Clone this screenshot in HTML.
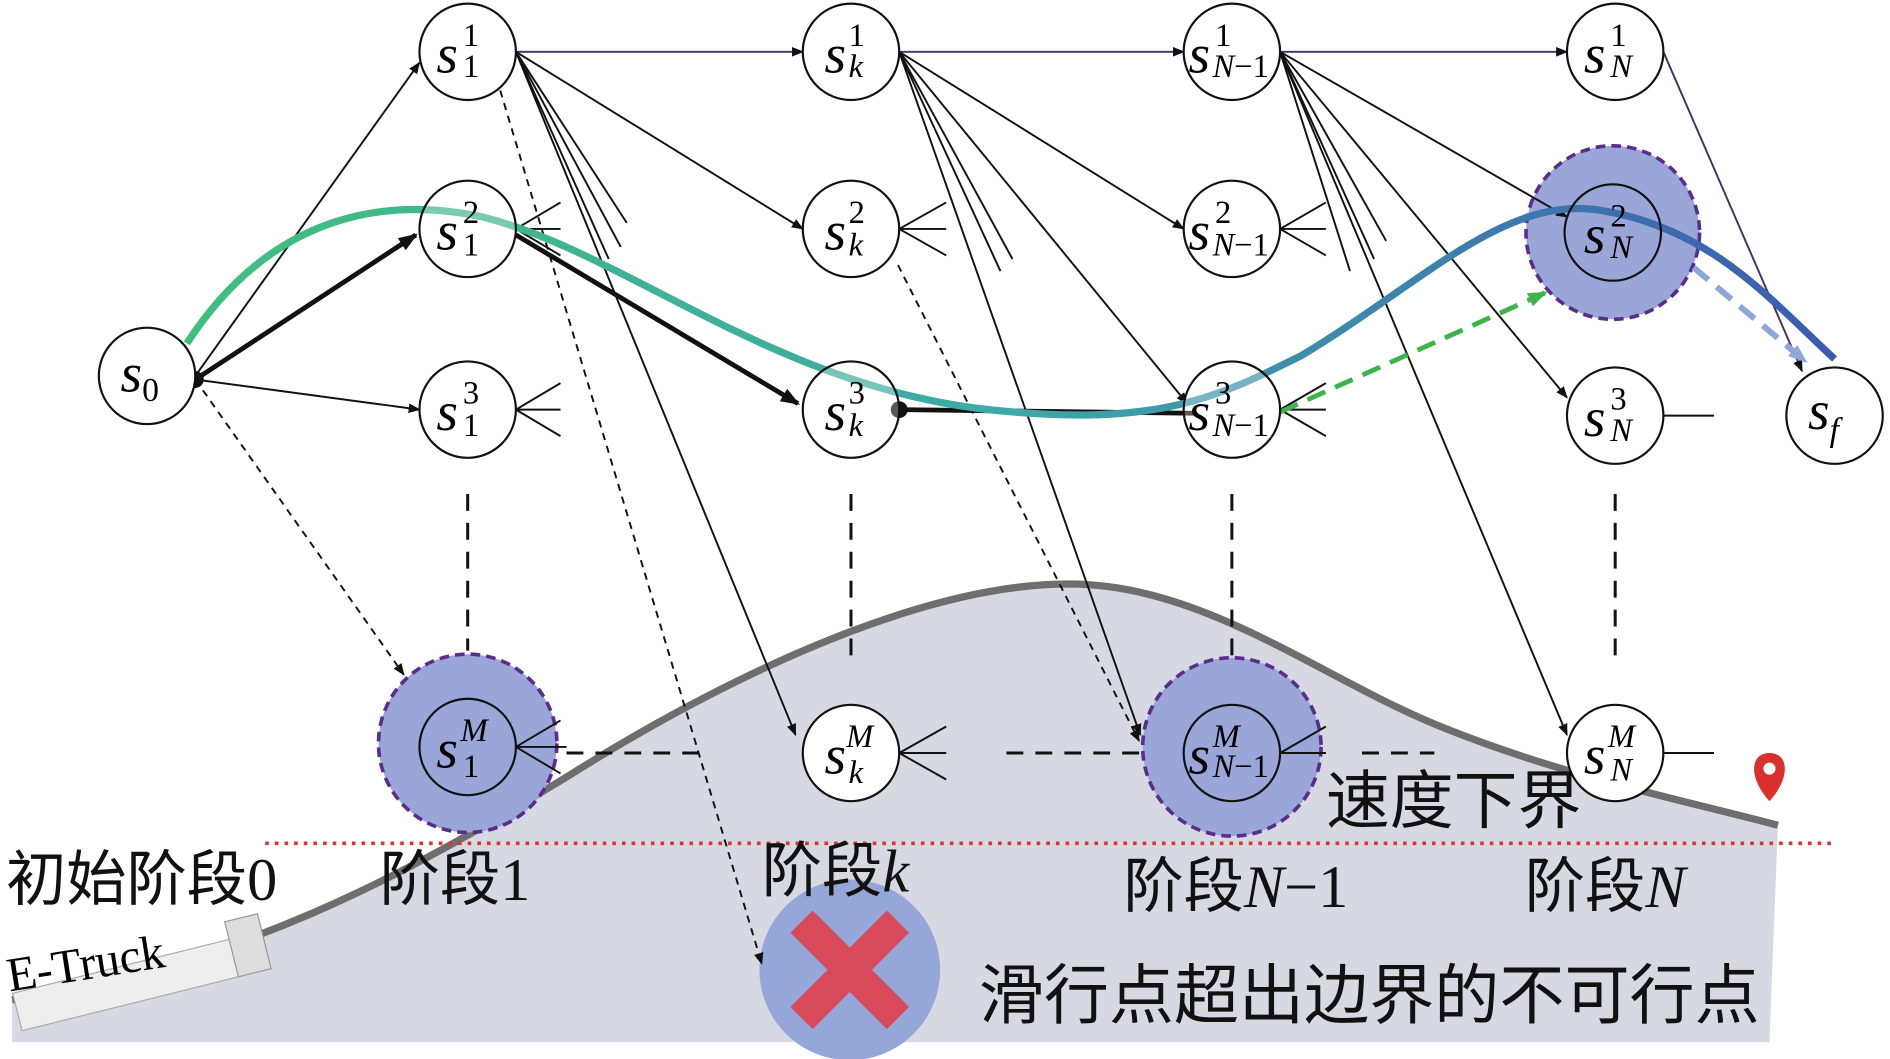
<!DOCTYPE html>
<html><head><meta charset="utf-8"><style>
html,body{margin:0;padding:0;background:#fff;}
svg{display:block;}
text{font-family:"Liberation Serif","Noto Serif CJK SC",serif;}
.cn{font-family:"Liberation Serif","Noto Sans CJK SC",sans-serif;}
</style></head><body>
<svg width="1890" height="1059" viewBox="0 0 1568 879" preserveAspectRatio="none" xmlns="http://www.w3.org/2000/svg">
<defs>
<marker id="a" markerWidth="10" markerHeight="8" refX="9" refY="4" orient="auto" markerUnits="userSpaceOnUse"><path d="M0,0 L10,4 L0,8 z" fill="#111"/></marker>
<marker id="ab" markerWidth="16" markerHeight="12" refX="14" refY="6" orient="auto" markerUnits="userSpaceOnUse"><path d="M0,0 L16,6 L0,12 z" fill="#111"/></marker>
<marker id="ag" markerWidth="16" markerHeight="12" refX="14" refY="6" orient="auto" markerUnits="userSpaceOnUse"><path d="M0,0 L16,6 L0,12 z" fill="#3cb44a"/></marker>
<marker id="al" markerWidth="16" markerHeight="12" refX="14" refY="6" orient="auto" markerUnits="userSpaceOnUse"><path d="M0,0 L16,6 L0,12 z" fill="#8ea6d8"/></marker>
<linearGradient id="g" x1="0" x2="1" y1="0" y2="0"><stop offset="0" stop-color="#3fbf7f"/><stop offset="0.5" stop-color="#3fa8a8"/><stop offset="1" stop-color="#3a5cb0"/></linearGradient>
</defs>
<!-- hill -->
<path d="M10,830 C200,800 330,730 470,645 C620,550 800,470 920,487 C1020,500 1110,570 1200,605 C1300,645 1400,665 1475,685 L1468,865 L10,865 Z" fill="#d6d9e2"/>
<path d="M10,830 C200,800 330,730 470,645 C620,550 800,470 920,487 C1020,500 1110,570 1200,605 C1300,645 1400,665 1475,685" fill="none" stroke="#6e6e6e" stroke-width="6"/>
<!-- truck -->
<g transform="rotate(-14 110 810)"><rect x="10" y="800" width="190" height="32" fill="#eee" stroke="#aaa"/><rect x="195" y="785" width="28" height="47" fill="#ddd" stroke="#999"/></g>
<text x="8" y="823" font-size="40" transform="rotate(-9 8 823)">E-Truck</text>
<!-- red dotted -->
<line x1="220" y1="700" x2="1520" y2="700" stroke="#e0322d" stroke-width="3" stroke-dasharray="3,5"/>
<!-- pin -->
<path d="M1468,665 C1450,645 1452,625 1468,625 C1484,625 1486,645 1468,665 Z" fill="#d9302c"/><circle cx="1468" cy="638" r="5" fill="#fff"/>
<!-- big highlight circles -->
<g fill="#9aa6d8" stroke="#5a2c8c" stroke-width="3" stroke-dasharray="8,5">
<circle cx="388" cy="617" r="74"/><circle cx="1022" cy="620" r="74"/><circle cx="1338" cy="193" r="72"/>
</g>
<circle cx="705" cy="805" r="75" fill="#95a6d8"/>
<path d="M665,765 L745,845 M745,765 L665,845" stroke="#d84a5a" stroke-width="26"/>
<!-- edges thin -->
<g stroke="#111" stroke-width="1.6" fill="none">
<line x1="162" y1="312" x2="348" y2="52" marker-end="url(#a)"/>
<line x1="162" y1="315" x2="348" y2="340" marker-end="url(#a)"/>
<line x1="162" y1="315" x2="335" y2="560" stroke-dasharray="6,5" marker-end="url(#a)"/>
<line x1="428" y1="43" x2="666" y2="43" stroke="#40306a" marker-end="url(#a)"/>
<line x1="428" y1="43" x2="666" y2="190" marker-end="url(#a)"/>
<line x1="428" y1="43" x2="520" y2="185"/><line x1="428" y1="43" x2="515" y2="205"/><line x1="428" y1="43" x2="505" y2="215"/>
<line x1="428" y1="43" x2="660" y2="610" marker-end="url(#a)"/>
<line x1="415" y1="75" x2="632" y2="800" stroke-dasharray="6,5" marker-end="url(#a)"/>
<line x1="746" y1="43" x2="982" y2="43" stroke="#40306a" marker-end="url(#a)"/>
<line x1="746" y1="43" x2="982" y2="190" marker-end="url(#a)"/>
<line x1="746" y1="43" x2="985" y2="335" marker-end="url(#a)"/>
<line x1="746" y1="43" x2="946" y2="610" marker-end="url(#a)"/>
<line x1="746" y1="43" x2="840" y2="215"/><line x1="746" y1="43" x2="830" y2="225"/>
<line x1="745" y1="220" x2="945" y2="615" stroke-dasharray="6,5" marker-end="url(#a)"/>
<line x1="1062" y1="43" x2="1300" y2="43" stroke="#40306a" marker-end="url(#a)"/>
<line x1="1062" y1="43" x2="1300" y2="180" marker-end="url(#a)"/>
<line x1="1062" y1="43" x2="1300" y2="330" marker-end="url(#a)"/>
<line x1="1062" y1="43" x2="1300" y2="610" marker-end="url(#a)"/>
<line x1="1062" y1="43" x2="1150" y2="200"/><line x1="1062" y1="43" x2="1140" y2="215"/><line x1="1062" y1="43" x2="1120" y2="225"/>
<line x1="1380" y1="43" x2="1495" y2="308" stroke="#40306a" marker-end="url(#a)"/>
<path d="M428,190 L465,168 M428,190 L465,190 M428,190 L465,212"/>
<path d="M428,340 L465,318 M428,340 L465,340 M428,340 L465,362"/>
<path d="M428,620 L465,598 M428,620 L470,620 M428,620 L465,642"/>
<path d="M746,190 L785,168 M746,190 L785,190 M746,190 L785,212"/>
<path d="M746,625 L785,603 M746,625 L785,625 M746,625 L785,647"/>
<path d="M1062,190 L1100,168 M1062,190 L1100,190 M1062,190 L1100,212"/>
<path d="M1062,340 L1100,318 M1062,340 L1100,340 M1062,340 L1100,362"/>
<path d="M1062,625 L1100,603 M1062,625 L1100,625"/>
<path d="M1380,345 L1422,345 M1380,625 L1422,625"/>
<g stroke-dasharray="14,10" stroke-width="2.5">
<line x1="388" y1="410" x2="388" y2="540"/><line x1="706" y1="410" x2="706" y2="545"/>
<line x1="1022" y1="410" x2="1022" y2="545"/><line x1="1340" y1="410" x2="1340" y2="545"/>
<line x1="470" y1="625" x2="590" y2="625"/><line x1="835" y1="625" x2="945" y2="625"/>
<line x1="1130" y1="625" x2="1190" y2="625"/>
</g>
</g>
<!-- bold path -->
<g stroke="#111" stroke-width="4" fill="none">
<line x1="162" y1="315" x2="345" y2="195" marker-end="url(#ab)"/>
<line x1="428" y1="195" x2="662" y2="335" marker-end="url(#ab)"/>
<line x1="746" y1="340" x2="990" y2="343"/>
</g>
<circle cx="162" cy="315" r="7" fill="#111"/><circle cx="746" cy="340" r="7" fill="#111"/>
<line x1="1062" y1="342" x2="1282" y2="243" stroke="#3cb44a" stroke-width="4" stroke-dasharray="16,9" marker-end="url(#ag)"/>
<line x1="1405" y1="222" x2="1498" y2="300" stroke="#8ea6d8" stroke-width="5" stroke-dasharray="16,9" marker-end="url(#al)"/>
<!-- curve -->
<path d="M155,285 C230,170 330,165 400,180 C520,210 640,320 820,340 C960,355 1010,330 1080,295 C1180,235 1250,160 1330,175 C1420,190 1470,250 1522,298" fill="none" stroke="url(#g)" stroke-width="6"/>
<!-- nodes -->
<g fill="#fff" stroke="#111" stroke-width="1.8">
<circle cx="122" cy="312" r="40"/><circle cx="388" cy="43" r="40"/><circle cx="388" cy="190" r="40" fill-opacity="0.3"/><circle cx="388" cy="340" r="40"/>
<circle cx="388" cy="620" r="40" fill="none"/>
<circle cx="706" cy="43" r="40"/><circle cx="706" cy="190" r="40"/><circle cx="706" cy="340" r="40" fill-opacity="0.3"/><circle cx="706" cy="625" r="40"/>
<circle cx="1022" cy="43" r="40"/><circle cx="1022" cy="190" r="40"/><circle cx="1022" cy="340" r="40" fill-opacity="0.3"/><circle cx="1022" cy="625" r="40" fill="none"/>
<circle cx="1340" cy="43" r="40"/><circle cx="1338" cy="193" r="40" fill="none"/><circle cx="1340" cy="345" r="40"/><circle cx="1340" cy="625" r="40"/>
<circle cx="1522" cy="345" r="40"/>
</g>
<g font-size="46" font-style="italic">
<text x="100" y="325">s<tspan font-size="28" font-style="normal" dy="8">0</tspan></text>
<text x="1500" y="356">s<tspan font-size="28" dy="10">f</tspan></text>
</g>
<g font-size="46">
<g font-style="italic">
<text x="362" y="60">s</text><text x="362" y="207">s</text><text x="362" y="357">s</text><text x="362" y="637">s</text>
<text x="684" y="60">s</text><text x="684" y="207">s</text><text x="684" y="357">s</text><text x="684" y="642">s</text>
<text x="986" y="60">s</text><text x="986" y="207">s</text><text x="986" y="357">s</text><text x="986" y="642">s</text>
<text x="1314" y="60">s</text><text x="1314" y="210">s</text><text x="1314" y="362">s</text><text x="1314" y="642">s</text>
</g>
<g font-size="27">
<text x="384" y="38">1</text><text x="384" y="64">1</text>
<text x="384" y="185">2</text><text x="384" y="212">1</text>
<text x="384" y="335">3</text><text x="384" y="362">1</text>
<text x="382" y="615" font-style="italic">M</text><text x="384" y="645">1</text>
<text x="704" y="38">1</text><text x="704" y="64" font-style="italic">k</text>
<text x="704" y="185">2</text><text x="704" y="212" font-style="italic">k</text>
<text x="704" y="335">3</text><text x="704" y="362" font-style="italic">k</text>
<text x="702" y="620" font-style="italic">M</text><text x="704" y="650" font-style="italic">k</text>
<text x="1008" y="38">1</text><text x="1006" y="64"><tspan font-style="italic">N</tspan>−1</text>
<text x="1008" y="185">2</text><text x="1006" y="212"><tspan font-style="italic">N</tspan>−1</text>
<text x="1008" y="335">3</text><text x="1006" y="362"><tspan font-style="italic">N</tspan>−1</text>
<text x="1006" y="620" font-style="italic">M</text><text x="1006" y="645"><tspan font-style="italic">N</tspan>−1</text>
<text x="1336" y="38">1</text><text x="1336" y="64" font-style="italic">N</text>
<text x="1336" y="188">2</text><text x="1336" y="214" font-style="italic">N</text>
<text x="1336" y="340">3</text><text x="1336" y="366" font-style="italic">N</text>
<text x="1334" y="620" font-style="italic">M</text><text x="1336" y="648" font-style="italic">N</text>
</g>
</g>
<g font-size="50" fill="#111">
<text x="5" y="747" class="cn">初始阶段0</text>
<text x="315" y="747" class="cn">阶段1</text>
<text x="632" y="740" class="cn">阶段<tspan font-style="italic">k</tspan></text>
<text x="932" y="753" class="cn">阶段<tspan font-style="italic">N</tspan>−1</text>
<text x="1265" y="753" class="cn">阶段<tspan font-style="italic">N</tspan></text>
<text x="1100" y="683" class="cn" font-size="53">速度下界</text>
<text x="812" y="845" class="cn" font-size="54">滑行点超出边界的不可行点</text>
</g>
</svg>
</body></html>
